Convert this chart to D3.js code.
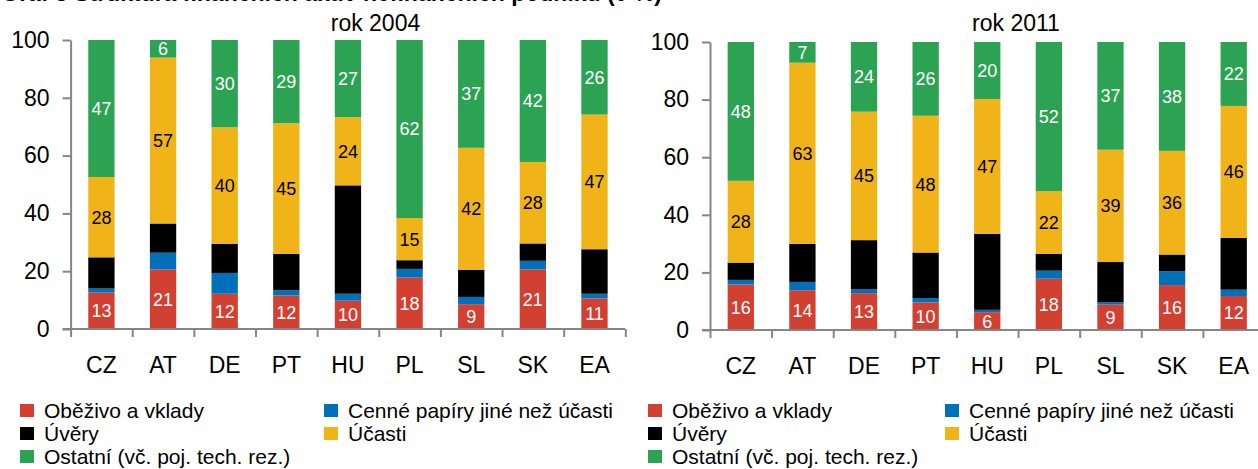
<!DOCTYPE html>
<html>
<head>
<meta charset="utf-8">
<script src="https://cdn.jsdelivr.net/npm/d3@7"></script>
<style>
  html, body { margin: 0; padding: 0; background: #fff; }
  svg { display: block; }
  text { font-family: Arial, "Liberation Sans", sans-serif; }
</style>
</head>
<body>
<svg id="chart" width="1258" height="469"></svg>
<script>
// ---- data ----
const categories = ["CZ", "AT", "DE", "PT", "HU", "PL", "SL", "SK", "EA"];
const seriesNames = ["Oběživo a vklady", "Cenné papíry jiné než účasti", "Úvěry", "Účasti", "Ostatní (vč. poj. tech. rez.)"];
const seriesColors = ["#d24032", "#0070bb", "#000000", "#f0b418", "#2ba353"];
const yTicks = [0, 20, 40, 60, 80, 100];
const panelTitles = ["rok 2004", "rok 2011"];
const chartTitle = "Graf 3 Struktura finančních aktiv nefinančních podniků (v %)";

// rok 2004
const cash2004       = [12.6, 20.6, 12.2, 11.6,  9.8, 17.8,  8.6, 20.6, 10.6];
const securities2004 = [ 1.4,  5.8,  7.2,  1.8,  2.4,  3.0,  2.5,  3.0,  1.6];
const loans2004      = [10.8, 10.1, 10.1, 12.6, 37.5,  3.0,  9.4,  6.0, 15.4];
const equity2004     = [27.8, 57.4, 40.3, 45.2, 23.6, 14.6, 42.2, 28.2, 46.6];
const other2004      = [47.4,  6.1, 30.2, 28.8, 26.7, 61.6, 37.3, 42.2, 25.8];

// rok 2011
const cash2011       = [15.8, 13.8, 12.8,  9.6,  6.2, 17.8,  8.8, 15.6, 11.8];
const securities2011 = [ 1.6,  2.9,  1.4,  1.5,  0.8,  2.8,  0.8,  4.8,  2.2];
const loans2011      = [ 6.0, 13.2, 17.0, 15.8, 26.4,  5.8, 14.0,  5.8, 18.0];
const equity2011     = [28.4, 62.9, 44.6, 47.5, 46.8, 21.8, 39.0, 36.0, 45.8];
const other2011      = [48.2,  7.2, 24.2, 25.6, 19.8, 51.8, 37.4, 37.8, 22.2];

const labelledSeries = [0, 3, 4];       // series with value labels
const labelColors = ["#ffffff", "#ffffff", "#ffffff", "#000000", "#ffffff"];

// ---- layout ----
const panels = [
  { title: panelTitles[0], series: [cash2004, securities2004, loans2004, equity2004, other2004],
    x0: 70.6, x1: 625.3, yTop: 40, yBottom: 329, titleX: 375.5, legendX: [20, 324] },
  { title: panelTitles[1], series: [cash2011, securities2011, loans2011, equity2011, other2011],
    x0: 710, x1: 1264.5, yTop: 42, yBottom: 330, titleX: 1016, legendX: [648, 945] }
];
const legendRows = [[0, 1], [2, 3], [4]];
const legendRowY = [404, 427, 450];
const axisColor = "#868686";

const svg = d3.select("#chart");

// cropped chart title at the very top (only its lowest pixels are visible)
svg.append("text")
  .attr("x", 662).attr("y", 1)
  .attr("text-anchor", "end")
  .style("font-size", "23px").style("font-weight", "bold")
  .text(chartTitle);

panels.forEach(p => {
  const g = svg.append("g");
  const x = d3.scaleBand().domain(categories).range([p.x0, p.x1]).paddingInner(0.573).paddingOuter(0.2865);
  const xEdges = d3.scaleLinear().domain([0, categories.length]).range([p.x0, p.x1]);
  const y = d3.scaleLinear().domain([0, 100]).range([p.yBottom, p.yTop]);

  // stack data
  const rows = categories.map((c, i) => {
    const o = { cat: c };
    p.series.forEach((s, k) => { o["s" + k] = s[i]; });
    return o;
  });
  const keys = p.series.map((s, k) => "s" + k);
  const stacked = d3.stack().keys(keys)(rows);

  // bars
  stacked.forEach((layer, k) => {
    g.append("g").selectAll("rect").data(layer).join("rect")
      .attr("x", d => x(d.data.cat))
      .attr("width", x.bandwidth())
      .attr("y", d => y(d[1]))
      .attr("height", d => y(d[0]) - y(d[1]))
      .attr("fill", seriesColors[k]);
  });

  // value labels
  stacked.forEach((layer, k) => {
    if (!labelledSeries.includes(k)) return;
    g.append("g").selectAll("text").data(layer).join("text")
      .attr("x", d => x(d.data.cat) + x.bandwidth() / 2)
      .attr("y", d => (y(d[0]) + y(d[1])) / 2)
      .attr("dy", "0.36em")
      .attr("text-anchor", "middle")
      .attr("fill", labelColors[k])
      .style("font-size", "18px")
      .text(d => Math.round(d[1] - d[0]));
  });

  // y axis
  const yAxis = g.append("g")
    .attr("transform", `translate(${p.x0},0)`)
    .call(d3.axisLeft(y).tickValues(yTicks).tickSize(8).tickSizeOuter(0).tickPadding(13));
  yAxis.selectAll("text").style("font-size", "23px").attr("fill", "#000").style("font-family", "Arial, 'Liberation Sans', sans-serif");

  // x axis: boundary ticks
  const xAxis = g.append("g")
    .attr("transform", `translate(0,${p.yBottom})`)
    .call(d3.axisBottom(xEdges).tickValues(d3.range(categories.length + 1)).tickFormat("").tickSize(8).tickSizeOuter(0));
  xAxis.select(".domain").remove();
  g.append("line")
    .attr("x1", p.x0 - 8).attr("x2", p.x1)
    .attr("y1", y(0)).attr("y2", y(0))
    .attr("stroke", axisColor).attr("stroke-width", 2);

  // x category labels
  const xLab = g.append("g")
    .attr("transform", `translate(0,${p.yBottom})`)
    .call(d3.axisBottom(x).tickSize(0).tickPadding(28));
  xLab.select(".domain").remove();
  xLab.selectAll("text").style("font-size", "23px").attr("fill", "#000").style("font-family", "Arial, 'Liberation Sans', sans-serif");

  [yAxis, xAxis].forEach(a => {
    a.selectAll(".domain").attr("stroke", axisColor).attr("stroke-width", 2);
    a.selectAll(".tick line").attr("stroke", axisColor).attr("stroke-width", 2);
  });

  // panel title
  g.append("text")
    .attr("x", p.titleX).attr("y", 31)
    .attr("text-anchor", "middle")
    .style("font-size", "23px")
    .text(p.title);

  // legend
  legendRows.forEach((row, r) => {
    row.forEach((k, c) => {
      const lx = p.legendX[c];
      const ly = legendRowY[r];
      g.append("rect").attr("x", lx).attr("y", ly).attr("width", 14).attr("height", 13).attr("fill", seriesColors[k]);
      g.append("text").attr("x", lx + 24).attr("y", ly + 13.5)
        .style("font-size", "21px").text(seriesNames[k]);
    });
  });
});
</script>
</body>
</html>
